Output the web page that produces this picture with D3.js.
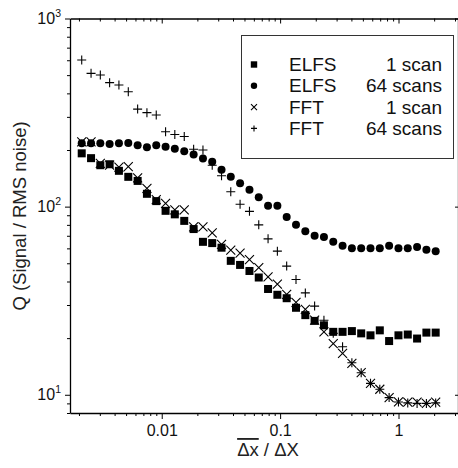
<!DOCTYPE html>
<html><head><meta charset="utf-8">
<script src="https://cdn.jsdelivr.net/npm/d3@7/dist/d3.min.js"></script>
<style>
body{margin:0;background:#fff;}
svg{display:block;font-family:"Liberation Sans",Arial,Helvetica,sans-serif;}
</style>
</head><body>
<svg id="c" width="458" height="468"></svg>
<script>
// ---- data ----
const xValues = [0.00211,0.00253,0.00303,0.00363,0.00435,0.00522,0.00626,0.0075,0.00899,0.01078,
  0.0129,0.0155,0.0186,0.0223,0.0267,0.032,0.0383,0.0459,0.0551,0.066,
  0.0791,0.0948,0.1136,0.1362,0.1633,0.1956,0.2345,0.2811,0.3369,0.4037,
  0.4839,0.58,0.695,0.833,0.999,1.197,1.435,1.72,2.06];
const elfs1 = [192,181,166,168,155,144,137,117,107,95,91,84,76,65,64,60.5,51.5,49,45.5,42,
  36.5,34,32.6,29,26.5,24.7,23.4,21.6,21.6,21.8,21.2,20.7,22,19.3,20.7,20.9,19.9,21.4,21.4];
const elfs64 = [217,217,217,215,217,218,212,207,212,208,203,197,189,180,173,157,144,133,123,112,
  101,101,88,80,74,70,69,65,62,60,60,60,60,62,60,60,61,59,58];
const fft1 = [221,221,170,166,162,163,142,125,109,104,96,96,78,78,72.5,63,58.7,56.6,52.3,47.4,
  42.3,38.7,34.2,31,28.4,24.9,21.6,18.7,16.6,14.7,13.1,11.5,10.7,9.66,9.16,9.13,9.13,9.0,9.13];
const fft64 = [602,511,501,456,443,408,330,316,307,250,242,236,202,200,166,146,120,103,94.4,80,
  67.4,58,48.3,41,34.8,29.6,24.9,21.2,18,14.8,13.1,11.5,10.7,9.66,9.16,9.05,9.0,9.0,9.05];

const seriesNames = ["ELFS","ELFS","FFT","FFT"];
const seriesScans = ["1 scan","64 scans","1 scan","64 scans"];
const seriesSymbols = ["square","circle","cross","plus"];

const xTickValues = [0.01, 0.1, 1];
const xTickLabels = ["0.01", "0.1", "1"];
const yTickValues = [10, 100, 1000];
const yTickExp = ["1", "2", "3"];

// ---- scales ----
const svg = d3.select("#c");
const x = d3.scaleLog().domain([0.00168, 3.18]).range([70, 458]);
const y = d3.scaleLog().domain([8, 1000]).range([413, 18.5]);

function minorTicks(domain){
  const out=[];
  for(let e=-4;e<=4;e++){
    for(let k=1;k<=9;k++){
      const v=k*Math.pow(10,e);
      if(v>=domain[0]*0.9999 && v<=domain[1]*1.0001) out.push(+v.toPrecision(6));
    }
  }
  return out;
}
const xAll = minorTicks(x.domain());
const yAll = minorTicks(y.domain());
const isMajor = v => Math.abs(Math.log10(v) - Math.round(Math.log10(v))) < 1e-6;

// bottom axis
const gB = svg.append("g").attr("transform","translate(0,413)")
  .call(d3.axisBottom(x).tickValues(xAll).tickSizeInner(3).tickSizeOuter(0)
    .tickFormat(d => { const i = xTickValues.findIndex(t => Math.abs(t-d)/t<1e-6); return i>=0 ? xTickLabels[i] : ""; }));
gB.selectAll(".tick line").attr("y2", d => isMajor(d) ? 6 : 3);
gB.selectAll(".tick text").attr("y", 12).attr("font-size", 16).attr("fill","#111")
  .attr("font-family", "Liberation Sans, Arial, sans-serif");

// top axis (inward ticks)
const gT = svg.append("g").attr("transform","translate(0,18.5)")
  .call(d3.axisTop(x).tickValues(xAll).tickSizeInner(-3).tickSizeOuter(0).tickFormat(""));
gT.selectAll(".tick line").attr("y2", d => isMajor(d) ? 5 : 3);

// left axis
const gL = svg.append("g").attr("transform","translate(70,0)")
  .call(d3.axisLeft(y).tickValues(yAll).tickSizeInner(3).tickSizeOuter(0).tickFormat(""));
gL.selectAll(".tick line").attr("x2", d => isMajor(d) ? -5 : -3);
const yl = gL.selectAll(".ylab").data(yTickValues).join("text")
  .attr("class","ylab").attr("x", -9).attr("y", d => y(d) + 5)
  .attr("text-anchor","end").attr("font-size",16).attr("fill","#111");
yl.append("tspan").text("10");
yl.append("tspan").attr("dy",-7).attr("font-size",10.5).text((d,i)=>yTickExp[i]);

// right axis (inward ticks)
svg.append("g").attr("transform","translate(458,0)")
  .call(d3.axisRight(y).tickValues(yTickValues).tickSizeInner(-3).tickSizeOuter(0).tickFormat(""));

svg.selectAll(".domain").attr("stroke","#000").attr("stroke-width",1.3);
svg.selectAll(".tick line").attr("stroke","#000").attr("stroke-width",1);

// axis titles
svg.append("text").attr("transform","translate(26,216) rotate(-90)")
  .attr("text-anchor","middle").attr("font-size",18.5).attr("fill","#222")
  .text("Q (Signal / RMS noise)");
const xt = svg.append("text").attr("x",268).attr("y",456).attr("text-anchor","middle")
  .attr("font-size",18.5).attr("fill","#222");
xt.append("tspan").attr("style","text-decoration: overline").text("\u0394x");
xt.append("tspan").text(" / \u0394X");

// ---- markers ----
function drawSymbol(g, type, cx, cy, s){
  if(type==="square"){
    g.append("rect").attr("x",cx-s).attr("y",cy-s).attr("width",2*s).attr("height",2*s).attr("fill","#000");
  } else if(type==="circle"){
    g.append("circle").attr("cx",cx).attr("cy",cy).attr("r",s).attr("fill","#000");
  } else if(type==="cross"){
    g.append("path").attr("d",`M${cx-s},${cy-s}L${cx+s},${cy+s}M${cx-s},${cy+s}L${cx+s},${cy-s}`)
      .attr("stroke","#000").attr("stroke-width",1.1).attr("fill","none");
  } else {
    g.append("path").attr("d",`M${cx-s},${cy}L${cx+s},${cy}M${cx},${cy-s}L${cx},${cy+s}`)
      .attr("stroke","#000").attr("stroke-width",1.1).attr("fill","none");
  }
}
const plot = svg.append("g");
const order = [[elfs64,"circle",4],[fft1,"cross",4.5],[elfs1,"square",4],[fft64,"plus",4.5]];
order.forEach(([vals,type,s]) => {
  const g = plot.append("g");
  vals.forEach((v,i) => drawSymbol(g, type, x(xValues[i]), y(v), s));
});

// ---- legend ----
const lg = svg.append("g");
lg.append("rect").attr("x",241.5).attr("y",35.5).attr("width",212).attr("height",123)
  .attr("fill","#fff").attr("stroke","#333").attr("stroke-width",1);
seriesNames.forEach((n,i) => {
  const cy = 64.5 + i*21.3;
  const sz = seriesSymbols[i]==="square" ? 3.2 : (seriesSymbols[i]==="circle" ? 3.2 : 3);
  drawSymbol(lg, seriesSymbols[i], 254, cy, sz);
  lg.append("text").attr("x",289).attr("y",cy+6.5).attr("font-size",19).attr("fill","#111").text(n);
  lg.append("text").attr("x",442).attr("y",cy+6.5).attr("text-anchor","end").attr("font-size",19).attr("fill","#111").text(seriesScans[i]);
});
</script>
</body></html>
